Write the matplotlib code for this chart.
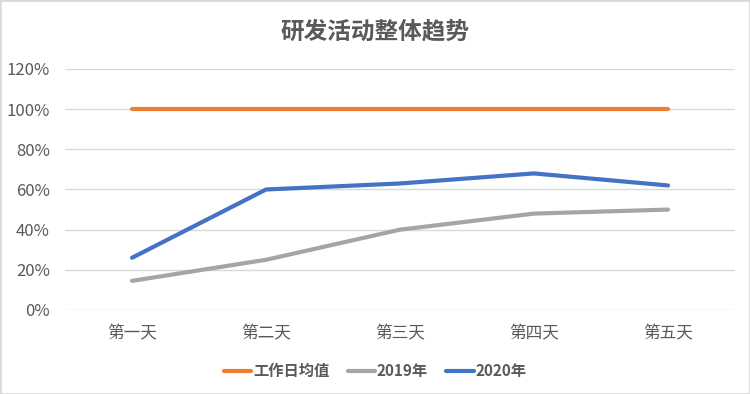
import matplotlib
matplotlib.use("Agg")
import matplotlib.pyplot as plt
from matplotlib.ticker import PercentFormatter
from matplotlib.patches import Rectangle

plt.rcParams["font.family"] = ["Noto Sans CJK SC", "DejaVu Sans"]

days = ["第一天", "第二天", "第三天", "第四天", "第五天"]
avg_workday = [1.00, 1.00, 1.00, 1.00, 1.00]
year_2019 = [0.145, 0.25, 0.40, 0.48, 0.50]
year_2020 = [0.26, 0.60, 0.63, 0.68, 0.62]

TEXT = "#595959"

fig = plt.figure(figsize=(7.5, 3.94), dpi=100)
ax = fig.add_axes([0.0867, 0.2132, 0.8933, 0.6117])

x = [i + 0.5 for i in range(len(days))]
ax.plot(x, avg_workday, color="#ED7D31", lw=3, solid_capstyle="round", label="工作日均值", zorder=3)
ax.plot(x, year_2019, color="#A5A5A5", lw=3, solid_capstyle="round", label="2019年", zorder=3)
ax.plot(x, year_2020, color="#4472C4", lw=3, solid_capstyle="round", label="2020年", zorder=4)

ax.set_xlim(0, len(days))
ax.set_ylim(0, 1.2)
ax.set_yticks([0, 0.2, 0.4, 0.6, 0.8, 1.0, 1.2])
ax.yaxis.set_major_formatter(PercentFormatter(1.0, decimals=0))
ax.set_xticks(x)
ax.set_xticklabels(days)
ax.grid(axis="y", color="#D9D9D9", lw=1)
ax.set_axisbelow(True)
for s in ax.spines.values():
    s.set_visible(False)
ax.tick_params(length=0, colors=TEXT, labelsize=12)
ax.tick_params(axis="y", pad=11)
ax.tick_params(axis="x", pad=11)

fig.text(0.5, 0.919, "研发活动整体趋势", ha="center", va="center",
         fontsize=17, fontweight="heavy", color=TEXT)

leg = fig.legend(loc="center", bbox_to_anchor=(0.5, 0.058), ncol=3, frameon=False,
                 handlelength=1.8, columnspacing=1.2, handletextpad=0.1,
                 prop={"size": 11, "weight": "bold"})
for t in leg.get_texts():
    t.set_color(TEXT)

fig.patches.append(Rectangle((0, 0), 1, 1, transform=fig.transFigure, fill=False,
                             edgecolor="#D9D9D9", lw=2))

fig.savefig("out.png", dpi=100)
